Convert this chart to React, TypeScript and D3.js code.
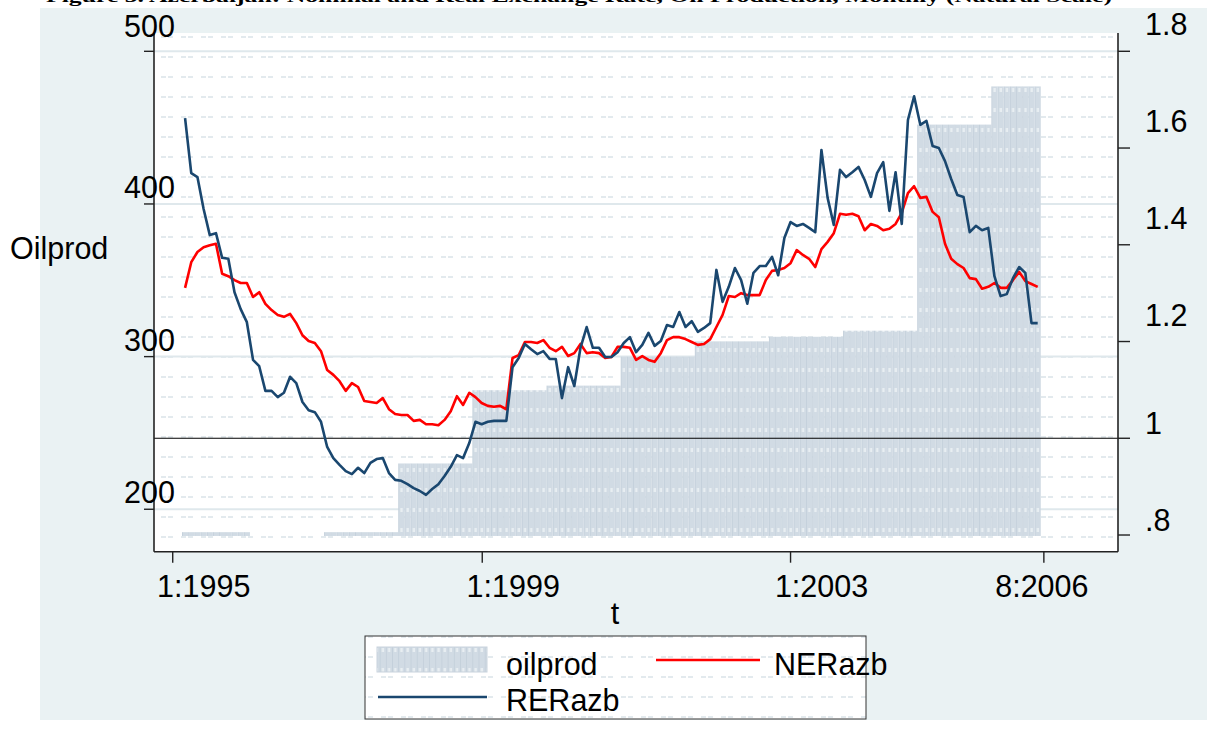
import { line, scaleLinear } from "d3";

const W = 1207;
const H = 749;
const P = { left: 154, right: 1118, top: 33, bottom: 551.7 };

// monthly observations, first one is 2:1995, last 8:2006
const RER = [
  1.662, 1.548, 1.54, 1.474, 1.42, 1.424, 1.373, 1.371, 1.302, 1.267,
  1.24, 1.162, 1.149, 1.098, 1.098, 1.085, 1.094, 1.127, 1.114, 1.075,
  1.058, 1.054, 1.034, 0.982, 0.959, 0.945, 0.932, 0.926, 0.939, 0.928,
  0.949, 0.957, 0.959, 0.928, 0.914, 0.912, 0.905, 0.897, 0.891, 0.883,
  0.895, 0.905, 0.922, 0.941, 0.965, 0.959, 0.99, 1.034, 1.029, 1.034,
  1.036, 1.036, 1.036, 1.147, 1.166, 1.195, 1.184, 1.174, 1.18, 1.164,
  1.164, 1.083, 1.147, 1.108, 1.187, 1.23, 1.187, 1.187, 1.168, 1.168,
  1.178, 1.197, 1.209, 1.178, 1.193, 1.218, 1.191, 1.201, 1.234, 1.23,
  1.261, 1.23, 1.242, 1.22, 1.228, 1.238, 1.348, 1.282, 1.313, 1.352,
  1.327, 1.278, 1.342, 1.356, 1.356, 1.375, 1.337, 1.414, 1.447, 1.439,
  1.443, 1.435, 1.426, 1.596, 1.497, 1.441, 1.555, 1.54, 1.55, 1.561,
  1.534, 1.499, 1.548, 1.571, 1.47, 1.55, 1.443, 1.658, 1.707, 1.648,
  1.656, 1.604, 1.6, 1.573, 1.536, 1.503, 1.499, 1.426, 1.439, 1.43,
  1.435, 1.335, 1.294, 1.298, 1.331, 1.354, 1.342, 1.238, 1.238,
];

const NER = [
  1.311, 1.364, 1.385, 1.395, 1.399, 1.402, 1.34, 1.335, 1.327, 1.321,
  1.321, 1.292, 1.302, 1.278, 1.265, 1.255, 1.251, 1.257, 1.238, 1.213,
  1.201, 1.197, 1.18, 1.141, 1.131, 1.118, 1.098, 1.114, 1.106, 1.077,
  1.075, 1.073, 1.083, 1.06, 1.05, 1.048, 1.048, 1.036, 1.038, 1.029,
  1.029, 1.027, 1.038, 1.056, 1.087, 1.069, 1.094, 1.085, 1.073, 1.067,
  1.065, 1.067, 1.06, 1.166, 1.172, 1.199, 1.199, 1.197, 1.203, 1.187,
  1.18, 1.189, 1.17, 1.176, 1.195, 1.176, 1.178, 1.176, 1.166, 1.168,
  1.189, 1.189, 1.187, 1.162, 1.17, 1.162, 1.158, 1.176, 1.203, 1.209,
  1.209, 1.205, 1.199, 1.193, 1.195, 1.205, 1.23, 1.255, 1.294, 1.292,
  1.3, 1.296, 1.296, 1.296, 1.327, 1.346, 1.348, 1.352, 1.362, 1.389,
  1.379, 1.371, 1.354, 1.391, 1.406, 1.424, 1.464, 1.462, 1.464, 1.459,
  1.43, 1.443, 1.439, 1.43, 1.433, 1.443, 1.466, 1.507, 1.521, 1.497,
  1.499, 1.468, 1.457, 1.402, 1.371, 1.36, 1.352, 1.331, 1.329, 1.309,
  1.313, 1.321, 1.311, 1.311, 1.327, 1.344, 1.325, 1.319, 1.313,
];

// annual oil production, shown as one bar per month
const OIL_YEARS = [1995, 1996, 1997, 1998, 1999, 2000, 2001, 2002, 2003, 2004, 2005, 2006];
const OIL = [185, null, 185, 230, 278, 281, 300, 310, 313, 317, 452, 477];
const OIL_BASE = 182.5;

const X_TICKS = [-2, 48.1, 98, 139];
const X_LABELS = ["1:1995", "1:1999", "1:2003", "8:2006"];
const YL_TICKS = [200, 300, 400, 500];
const YR_TICKS = [0.8, 1, 1.2, 1.4, 1.6, 1.8];
const yrFmt = (v: number) => (v === 1 ? "1" : v < 1 ? ".8" : v.toFixed(1));

const TITLE = "Figure 3. Azerbaijan: Nominal and Real Exchange Rate, Oil Production, Monthly (Natural Scale)";

const x = scaleLinear().domain([-5.03, 151]).range([P.left, P.right]);
const yL = scaleLinear().domain([172.2, 512]).range([P.bottom, P.top]);
const yR = scaleLinear().domain([0.7655, 1.8378]).range([P.bottom, P.top]);

const FONT = '"Liberation Sans", Arial, sans-serif';

export default function App() {
  const bw = x(1) - x(0);
  const mk = (vals: number[]) =>
    line<number>()
      .x((_, i) => x(i))
      .y((v) => yR(v))(vals) ?? "";

  const bars = RER.map((_, i) => {
    const year = 1995 + Math.floor((i + 1) / 12);
    const v = OIL[OIL_YEARS.indexOf(year)];
    return { i, v };
  }).filter((b) => b.v != null) as { i: number; v: number }[];

  return (
    <div style={{ position: "absolute", left: 0, top: 0 }}>
      <svg width={W} height={H} style={{ display: "block", fontFamily: FONT }}>
        <defs>
          <pattern id="dash" width={20} height={20} patternUnits="userSpaceOnUse" y={16}>
            <rect x={1} y={0} width={5} height={2} fill="#e3eaee" />
            <rect x={8} y={0} width={5} height={2} fill="#e3eaee" />
          </pattern>
          <pattern id="barpat" width={bw} height={20} patternUnits="userSpaceOnUse" x={x(0) - bw / 2} y={0}>
            <rect width={bw} height={20} fill="#d1dbe4" />
            <rect x={0} width={0.8} height={20} fill="#c3cfda" />
            <rect x={bw / 2 - 1} y={8} width={2.4} height={4} fill="#e8eef2" />
          </pattern>
        </defs>

        <rect width={W} height={H} fill="#fff" />
        <text x={46} y={2} fontFamily='"Liberation Serif", serif' fontWeight="bold" fontSize={17}
          textLength={1066} lengthAdjust="spacingAndGlyphs">
          {TITLE}
        </text>
        <rect x={40} y={8} width={W - 40} height={712} fill="#eaf2f3" />

        <rect x={P.left} y={P.top} width={P.right - P.left} height={P.bottom - P.top} fill="#fff" />
        <rect x={P.left} y={P.top} width={P.right - P.left} height={P.bottom - P.top} fill="url(#dash)" />

        {YL_TICKS.map((t) => (
          <line key={`g${t}`} x1={P.left} x2={P.right} y1={yL(t)} y2={yL(t)} stroke="#dfe8ec" strokeWidth={2} />
        ))}

        {bars.map((b) => (
          <rect key={`b${b.i}`} x={x(b.i) - bw / 2} y={yL(b.v)} width={bw}
            height={yL(OIL_BASE) - yL(b.v)} fill="url(#barpat)" />
        ))}

        <line x1={P.left} x2={P.right} y1={yR(1)} y2={yR(1)} stroke="#000" strokeWidth={1.2} />

        <path d={mk(NER)} fill="none" stroke="#ff0000" strokeWidth={2.6} strokeLinejoin="round" />
        <path d={mk(RER)} fill="none" stroke="#1a476f" strokeWidth={2.6} strokeLinejoin="round" />

        {/* axes */}
        <line x1={P.left} x2={P.left} y1={P.top} y2={P.bottom} stroke="#222" strokeWidth={1.6} />
        <line x1={P.right} x2={P.right} y1={P.top} y2={P.bottom} stroke="#222" strokeWidth={1.6} />
        <line x1={P.left} x2={P.right} y1={P.bottom} y2={P.bottom} stroke="#222" strokeWidth={1.6} />

        {YL_TICKS.map((t) => (
          <g key={`yl${t}`}>
            <line x1={P.left - 10} x2={P.left} y1={yL(t)} y2={yL(t)} stroke="#222" strokeWidth={1.4} />
            <text x={124} y={yL(t) - (t === 500 ? 25 : 17)} dy="0.36em" fontSize={30.5} fill="#000">{t}</text>
          </g>
        ))}
        {YR_TICKS.map((t) => (
          <g key={`yr${t}`}>
            <line x1={P.right} x2={P.right + 12} y1={yR(t)} y2={yR(t)} stroke="#222" strokeWidth={1.4} />
            <text x={1145} y={yR(t) - (t <= 1 ? 15 : 27)} dy="0.36em" fontSize={30.5} fill="#000">{yrFmt(t)}</text>
          </g>
        ))}
        {X_TICKS.map((t, k) => (
          <g key={`x${t}`}>
            <line x1={x(t)} x2={x(t)} y1={P.bottom} y2={P.bottom + 11} stroke="#222" strokeWidth={1.4} />
            <text x={x(t) + (X_LABELS[k].startsWith("1:") ? 31 : -2)} y={597} textAnchor="middle"
              fontSize={30.5} fill="#000">
              {X_LABELS[k]}
            </text>
          </g>
        ))}

        <text x={10} y={259} fontSize={30.5} fill="#000">Oilprod</text>
        <text x={615} y={624} textAnchor="middle" fontSize={30.5} fill="#000">t</text>

        {/* legend */}
        <rect x={365} y={636} width={501} height={83} fill="#fff" />
        <rect x={365} y={636} width={501} height={83} fill="url(#dash)" stroke="#333" strokeWidth={1} />
        <rect x={377} y={647} width={110} height={25} fill="url(#barpat)" stroke="#c9d3dd" strokeWidth={1} />
        <text x={506} y={675} fontSize={30.5} fill="#000">oilprod</text>
        <line x1={656} x2={760} y1={660} y2={660} stroke="#ff0000" strokeWidth={2.6} />
        <text x={774} y={675} fontSize={30.5} fill="#000">NERazb</text>
        <line x1={378} x2={487} y1={697} y2={697} stroke="#1a476f" strokeWidth={2.6} />
        <text x={506} y={711} fontSize={30.5} fill="#000">RERazb</text>
      </svg>
    </div>
  );
}
